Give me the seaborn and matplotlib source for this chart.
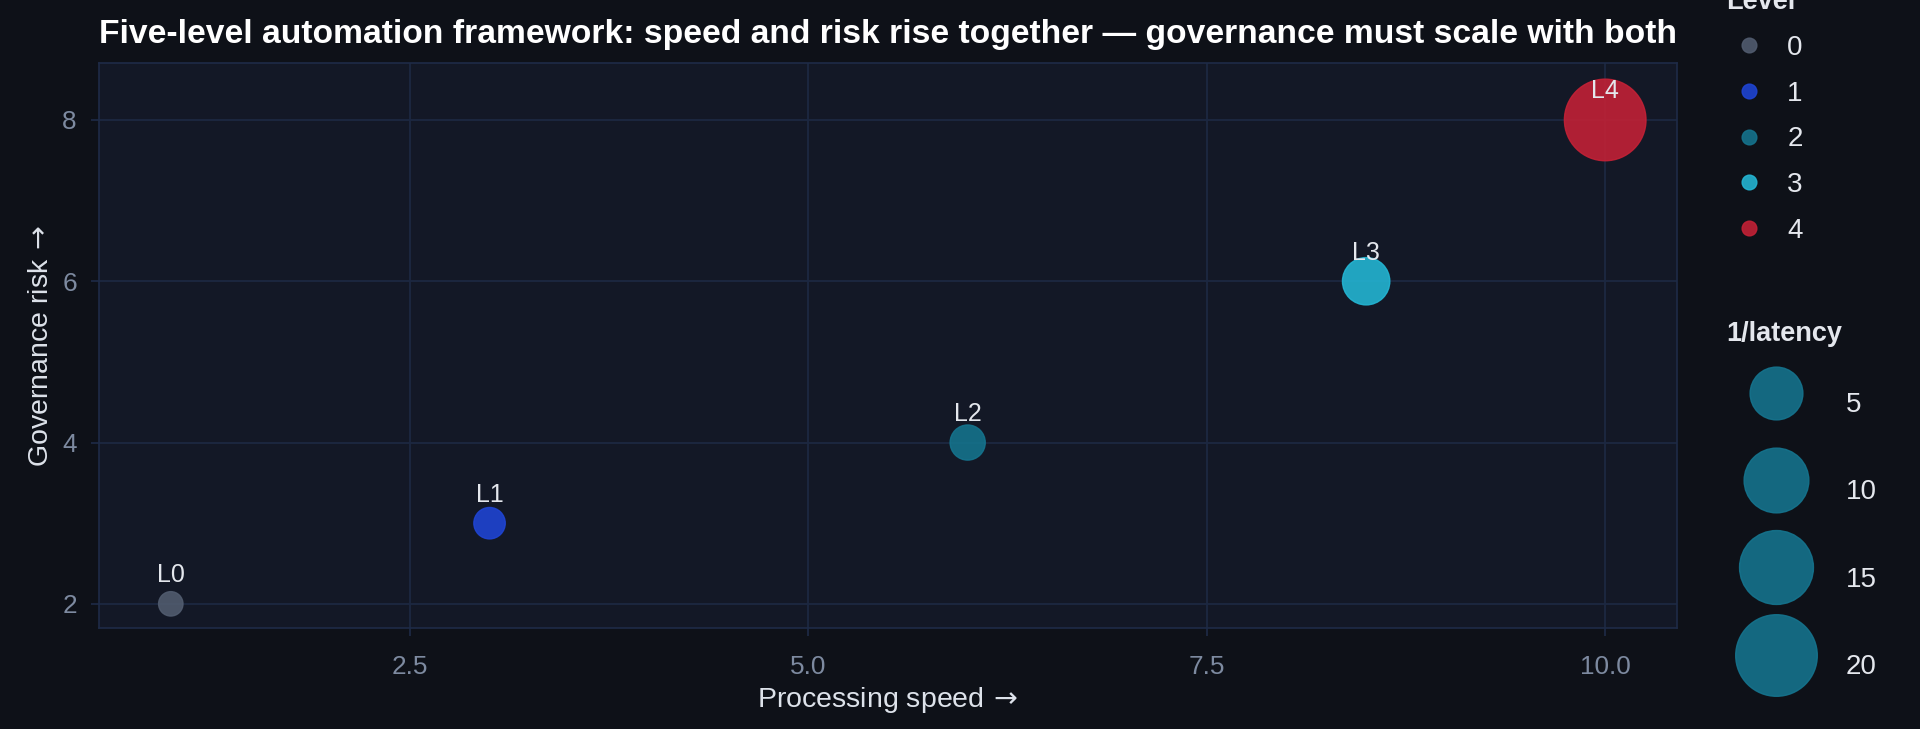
"""
    Automation framework: speed vs governance risk, bubble = 1/latency
"""

import numpy as np
import pandas as pd
import matplotlib
matplotlib.use("Agg")
import matplotlib.pyplot as plt
from matplotlib.lines import Line2D
from matplotlib.ticker import MultipleLocator, FormatStrFormatter
import seaborn as sns

# Donnees
levels = [0, 1, 2, 3, 4]
level_names = ["L0", "L1", "L2", "L3", "L4"]
speed = [1.0, 3.0, 6.0, 8.5, 10.0]
risk = [2, 3, 4, 6, 8]
inv_latency = [0.1, 0.4, 0.8, 3.3, 20.0]
level_colors = ["#525d70", "#1f45d6", "#15758f", "#24b8d6", "#c62136"]
size_ticks = [5, 10, 15, 20]

TITLE = ("Five-level automation framework: speed and risk rise together "
         "\u2014 governance must scale with both")

# Style
BG = "#0e1118"
PANEL = "#131826"
GRID = "#1c2841"
SPINE = "#1e2b47"
TICK_TEXT = "#7d8aa0"
LABEL = "#dde2ea"
TEXT = "#e4e7ed"
DPI = 100
D_MIN, D_MAX = 25.8, 83.0   # diametre visuel des bulles (px)
EDGE = 1.0
ALPHA = 0.88

sns.set_theme(style="darkgrid")
plt.rcParams['font.family'] = ['Liberation Sans', 'DejaVu Sans']
plt.rcParams['mathtext.fontset'] = 'dejavusans'


def marker_area(v):
    """Echelle en aire (racine) : diametre lineaire en sqrt(valeur)"""
    lo, hi = min(inv_latency), max(inv_latency)
    frac = np.sqrt((v - lo) / (hi - lo))
    d_px = D_MIN + frac * (D_MAX - D_MIN)
    d_pt = d_px * 72 / DPI - EDGE
    return d_pt ** 2


df = pd.DataFrame({
    "speed": speed,
    "risk": risk,
    "level": levels,
    "inv_latency": inv_latency,
    "name": level_names,
})

fig, ax = plt.subplots(figsize=(19.2, 7.29), dpi=DPI)
fig.patch.set_facecolor(BG)
fig.subplots_adjust(left=0.0516, right=0.8734, bottom=0.1385, top=0.9129)
ax.set_facecolor(PANEL)

sns.scatterplot(data=df, x="speed", y="risk", hue="level",
                palette=dict(zip(levels, level_colors)),
                size="inv_latency",
                sizes={v: marker_area(v) for v in inv_latency},
                alpha=ALPHA, edgecolor="face", linewidth=EDGE,
                legend=False, ax=ax, zorder=3)

for _, row in df.iterrows():
    ax.annotate(row["name"], (row["speed"], row["risk"]),
                xytext=(0, 15.5), textcoords="offset points",
                ha="center", va="baseline", fontsize=18,
                color=TEXT, zorder=4)

ax.set_ylim(1.7, 8.7)
ax.xaxis.set_major_locator(MultipleLocator(2.5))
ax.yaxis.set_major_locator(MultipleLocator(2))
ax.xaxis.set_major_formatter(FormatStrFormatter("%.1f"))

ax.grid(True, color=GRID, linewidth=1.3)
ax.set_axisbelow(True)
for sp in ax.spines.values():
    sp.set_visible(True)
    sp.set_color(SPINE)
    sp.set_linewidth(1.2)
ax.tick_params(axis="both", colors=SPINE, labelcolor=TICK_TEXT,
               length=6, width=1.2, labelsize=18.8,
               bottom=True, left=True)
ax.tick_params(axis="x", pad=13.5)
ax.tick_params(axis="y", pad=10)

ax.set_xlabel(r"Processing speed$\,\rightarrow$", fontsize=20.5, color=LABEL,
              labelpad=4)
ax.set_ylabel(r"Governance risk$\,\rightarrow$", fontsize=20.5, color=LABEL,
              labelpad=6)
ax.set_title(TITLE, fontsize=24.2, fontweight="bold", color="white", pad=15)

# Legende niveaux
hue_handles = [Line2D([], [], marker="o", linestyle="", markersize=10.6,
                      markerfacecolor=c, markeredgecolor=c, alpha=ALPHA,
                      markeredgewidth=EDGE) for c in level_colors]
leg1 = fig.legend(hue_handles, [str(l) for l in levels], title="Level",
                  loc="upper left", bbox_to_anchor=(0.8859, 1.049),
                  frameon=False, fontsize=20, alignment="left",
                  title_fontproperties={"weight": "bold", "size": 19.5},
                  handlelength=1.64, handletextpad=0.57, labelspacing=0.71,
                  labelcolor=TEXT)
leg1.get_title().set_color(TEXT)

# Legende tailles
size_handles = [Line2D([], [], marker="o", linestyle="",
                       markersize=np.sqrt(marker_area(v)),
                       markerfacecolor=level_colors[2],
                       markeredgecolor=level_colors[2], alpha=ALPHA,
                       markeredgewidth=EDGE) for v in size_ticks]
leg2 = fig.legend(size_handles, [str(v) for v in size_ticks], title="1/latency",
                  loc="upper left", bbox_to_anchor=(0.8859, 0.594),
                  frameon=False, fontsize=20, alignment="left",
                  title_fontproperties={"weight": "bold", "size": 19.5},
                  handlelength=3.64, handletextpad=0.68, handleheight=3.0,
                  labelspacing=0.95, labelcolor=TEXT)
leg2.get_title().set_color(TEXT)

fig.savefig("out.png", dpi=DPI, facecolor=BG)
plt.close(fig)
